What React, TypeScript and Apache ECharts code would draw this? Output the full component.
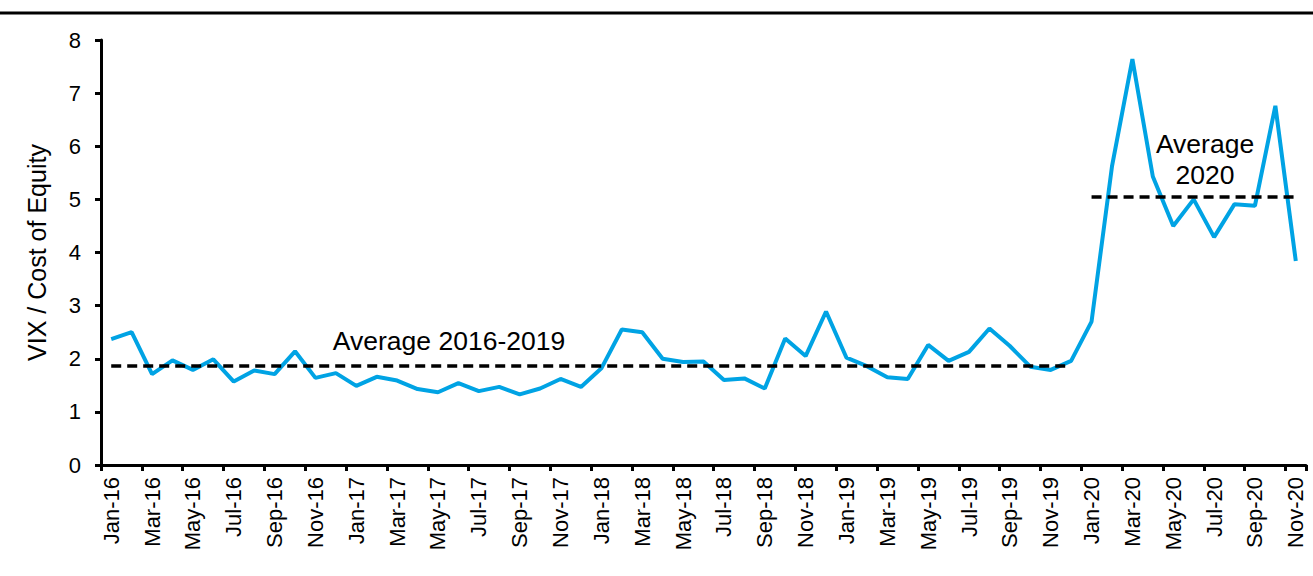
import React, { useEffect, useRef } from "react";
import * as echarts from "echarts";

const months = ["Jan", "Feb", "Mar", "Apr", "May", "Jun", "Jul", "Aug", "Sep", "Oct", "Nov", "Dec"];
const years = ["16", "17", "18", "19", "20"];
const categories: string[] = [];
years.forEach((y) => months.forEach((m) => categories.push(`${m}-${y}`)));
categories.splice(59); // Jan-16 .. Nov-20

const values2016 = [2.37, 2.5, 1.71, 1.97, 1.79, 1.99, 1.57, 1.78, 1.71, 2.14, 1.64, 1.73];
const values2017 = [1.49, 1.66, 1.59, 1.43, 1.37, 1.54, 1.39, 1.47, 1.33, 1.44, 1.62, 1.47];
const values2018 = [1.82, 2.55, 2.5, 2.0, 1.94, 1.95, 1.6, 1.63, 1.44, 2.38, 2.05, 2.89];
const values2019 = [2.02, 1.86, 1.65, 1.62, 2.26, 1.96, 2.13, 2.57, 2.24, 1.85, 1.79, 1.96];
const values2020 = [2.7, 5.62, 7.64, 5.43, 4.5, 5.0, 4.29, 4.91, 4.88, 6.76, 3.84];

const values = [...values2016, ...values2017, ...values2018, ...values2019, ...values2020];

const avgPre = 1.86; // Average 2016-2019
const avg2020 = 5.05; // Average 2020

const yTicks = [0, 1, 2, 3, 4, 5, 6, 7, 8];

const FONT = '"Liberation Sans", Arial, sans-serif';

export default function App() {
  const ref = useRef<HTMLDivElement>(null);
  useEffect(() => {
    if (!ref.current) return;
    const chart = echarts.init(ref.current, null, { renderer: "svg" });
    const dash = { color: "#000", width: 3.5, type: [10, 6] as any };
    chart.setOption({
      animation: false,
      backgroundColor: "#fff",
      textStyle: { fontFamily: FONT },
      grid: { left: 101, right: 7, top: 40, bottom: 111, outerBoundsMode: "none" } as any,
      xAxis: {
        type: "category",
        data: categories,
        boundaryGap: true,
        axisLine: { lineStyle: { color: "#000", width: 3 } },
        axisTick: { show: true, interval: 1, length: 6, lineStyle: { color: "#000", width: 3 } },
        axisLabel: {
          interval: 1,
          rotate: 90,
          margin: 12,
          color: "#000",
          fontSize: 22,
          fontFamily: FONT,
        },
        splitLine: { show: false },
      },
      yAxis: {
        type: "value",
        min: yTicks[0],
        max: yTicks[yTicks.length - 1],
        interval: 1,
        name: "VIX / Cost of Equity",
        nameLocation: "middle",
        nameGap: 52,
        nameRotate: 90,
        nameTextStyle: { color: "#000", fontSize: 25, fontFamily: FONT },
        axisLine: { show: true, lineStyle: { color: "#000", width: 3 } },
        axisTick: { show: true, length: 6, lineStyle: { color: "#000", width: 3 } },
        axisLabel: { color: "#000", fontSize: 22, margin: 20, fontFamily: FONT },
        splitLine: { show: false },
      },
      series: [
        {
          type: "line",
          data: values,
          symbol: "none",
          lineStyle: { color: "#00A3E4", width: 4 },
          itemStyle: { color: "#00A3E4" },
          markLine: {
            silent: true,
            symbol: "none",
            label: { show: false },
            lineStyle: dash,
            data: [
              [
                { coord: [categories[0], avgPre], lineStyle: dash },
                { coord: [categories[47], avgPre] },
              ],
              [
                { coord: [categories[48], avg2020], lineStyle: dash },
                { coord: [categories[58], avg2020] },
              ],
            ],
          },
        },
      ],
      graphic: [
        {
          type: "line",
          shape: { x1: 0, y1: 13, x2: 1313, y2: 13 },
          style: { stroke: "#000", lineWidth: 3 },
        },
        {
          type: "text",
          x: 449,
          y: 341,
          style: {
            text: "Average 2016-2019",
            fill: "#000",
            fontSize: 26.5,
            fontFamily: FONT,
            align: "center",
            verticalAlign: "middle",
            textAlign: "center",
            textVerticalAlign: "middle",
          },
        },
        {
          type: "text",
          x: 1205,
          y: 159,
          style: {
            text: "Average\n2020",
            fill: "#000",
            fontSize: 26.5,
            lineHeight: 31,
            fontFamily: FONT,
            align: "center",
            verticalAlign: "middle",
            textAlign: "center",
            textVerticalAlign: "middle",
          },
        },
      ],
    });
    return () => chart.dispose();
  }, []);
  return (
    <div
      ref={ref}
      style={{ position: "fixed", left: 0, top: 0, width: 1313, height: 576, background: "#fff" }}
    />
  );
}
